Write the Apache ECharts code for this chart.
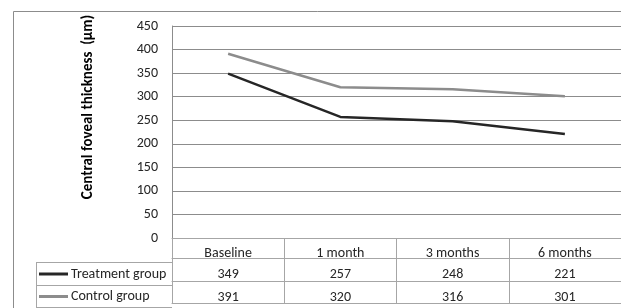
<!DOCTYPE html>
<html>
<head>
<meta charset="utf-8">
<script src="https://cdn.jsdelivr.net/npm/echarts@6/dist/echarts.min.js"></script>
<style>
  html, body { margin: 0; padding: 0; background: #fff; }
  #chart { width: 621px; height: 308px; }
</style>
</head>
<body>
<div id="chart"></div>
<script>
var categories = ['Baseline', '1 month', '3 months', '6 months'];
var treatment = [349, 257, 248, 221];
var control = [391, 320, 316, 301];
var seriesNames = ['Treatment group', 'Control group'];
var seriesColors = ['#262626', '#8c8c8c'];

var font = 'Carlito, "Noto Sans", sans-serif';
var fontSize = 14;
var tableColor = '#a6a6a6';

// plot area, table rows hang under it
var gridLeft = 172, gridTop = 26, gridWidth = 459, gridHeight = 216;
var row1 = 20, row2 = 43, row3 = 65;   // row line offsets below the x axis
var tableLeft = 36;

var chart = echarts.init(document.getElementById('chart'));

function valueAxis(values, offset, margin) {
    return {
        type: 'category',
        gridIndex: 0,
        position: 'bottom',
        offset: offset,
        data: values.map(String),
        axisLine: { show: true, lineStyle: { color: tableColor, width: 1 } },
        axisTick: { show: false },
        axisLabel: { margin: margin, verticalAlign: 'middle', fontSize: fontSize, fontFamily: font, color: '#262626' },
        splitLine: { show: false }
    };
}

var bottom = gridTop + gridHeight;
var graphics = [
    // outer chart border
    { type: 'rect', shape: { x: 13.5, y: 11.5, width: 700, height: 400 },
      style: { fill: 'none', stroke: '#8c8c8c', lineWidth: 1 }, silent: true }
];
// left column of the data table
[row1, row2, row3].forEach(function(off) {
    graphics.push({ type: 'line', shape: { x1: tableLeft, y1: bottom + off + 0.5, x2: gridLeft, y2: bottom + off + 0.5 },
        style: { stroke: tableColor, lineWidth: 1 }, silent: true });
});
graphics.push({ type: 'line', shape: { x1: tableLeft + 0.5, y1: bottom + row1, x2: tableLeft + 0.5, y2: bottom + row3 },
    style: { stroke: tableColor, lineWidth: 1 }, silent: true });
// legend keys inside the table
[row1, row2].forEach(function(off, i) {
    var next = i === 0 ? row2 : row3;
    var y = bottom + (off + next) / 2 + 0.5;
    graphics.push({ type: 'line', shape: { x1: tableLeft + 3, y1: y, x2: tableLeft + 32, y2: y },
        style: { stroke: seriesColors[i], lineWidth: 3 }, silent: true });
    graphics.push({ type: 'text', x: tableLeft + 35, y: y,
        style: { text: seriesNames[i], font: fontSize + 'px ' + font, fill: '#262626', verticalAlign: 'middle' }, silent: true });
});

var option = {
    backgroundColor: '#fff',
    animation: false,
    grid: { left: gridLeft, top: gridTop, width: gridWidth, height: gridHeight },
    xAxis: [
        {
            type: 'category',
            gridIndex: 0,
            data: categories,
            axisLine: { show: true, lineStyle: { color: tableColor, width: 1 } },
            axisTick: { show: true, length: row3, lineStyle: { color: tableColor } },
            axisLabel: { margin: 15, verticalAlign: 'middle', fontSize: fontSize, fontFamily: font, color: '#262626' },
            splitLine: { show: false }
        },
        valueAxis(treatment, row1, 16.5),
        valueAxis(control, row2, 16),
        valueAxis(['', '', '', ''], row3, 5)
    ],
    yAxis: {
        type: 'value',
        min: 0,
        max: 450,
        interval: 50,
        name: 'Central foveal thickness  (μm)',
        nameLocation: 'middle',
        nameRotate: 90,
        nameGap: 76,
        nameTextStyle: { fontSize: 15, fontWeight: 'bold', fontFamily: font, color: '#000', padding: [0, 0, 0, 50] },
        axisLine: { show: true, lineStyle: { color: '#8c8c8c' } },
        axisTick: { show: false },
        axisLabel: { margin: 14, fontSize: fontSize, fontFamily: font, color: '#262626' },
        splitLine: { show: true, lineStyle: { color: '#8c8c8c', width: 1 } }
    },
    series: [
        { name: seriesNames[0], type: 'line', data: treatment, symbol: 'none',
          lineStyle: { color: seriesColors[0], width: 2.5 }, itemStyle: { color: seriesColors[0] } },
        { name: seriesNames[1], type: 'line', data: control, symbol: 'none',
          lineStyle: { color: seriesColors[1], width: 2.5 }, itemStyle: { color: seriesColors[1] } }
    ],
    graphic: graphics
};

chart.setOption(option);
</script>
</body>
</html>
